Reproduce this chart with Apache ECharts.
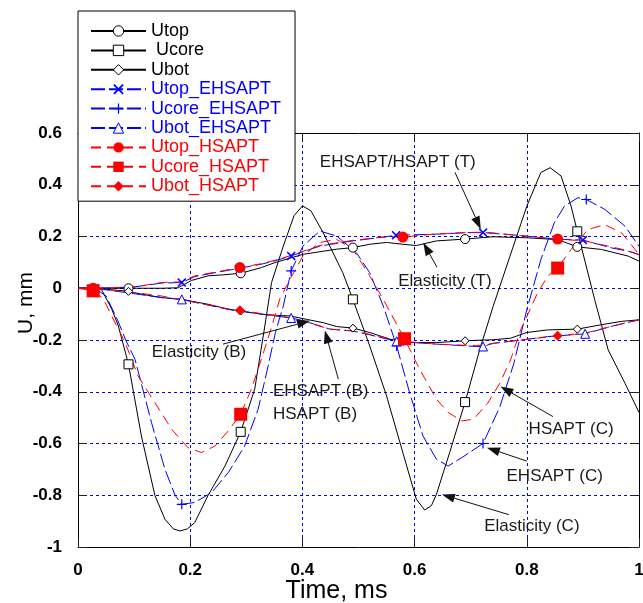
<!DOCTYPE html>
<html>
<head>
<meta charset="utf-8">
<script src="https://cdn.jsdelivr.net/npm/echarts@6/dist/echarts.min.js"></script>
<style>
html,body{margin:0;padding:0;background:#fff;}
#chart{width:643px;height:603px;}
</style>
</head>
<body>
<div id="chart"></div>
<script>
// ---------------- data (time in ms, displacement in mm) ----------------
const xTicks = [0, 0.2, 0.4, 0.6, 0.8, 1];
const yTicks = [-1, -0.8, -0.6, -0.4, -0.2, 0, 0.2, 0.4, 0.6];

const utop = [[0,0],[0.03,0],[0.09,0],[0.15,0],[0.179,0.002],[0.202,0.03],[0.232,0.048],[0.26,0.052],[0.29,0.058],[0.327,0.08],[0.351,0.099],[0.401,0.131],[0.461,0.151],[0.49,0.157],[0.52,0.17],[0.55,0.177],[0.579,0.17],[0.603,0.165],[0.639,0.183],[0.69,0.19],[0.74,0.199],[0.80,0.195],[0.855,0.188],[0.89,0.16],[0.933,0.15],[0.981,0.124],[1.0,0.105]];
const ucore = [[0,0],[0.03,0],[0.042,-0.005],[0.06,-0.08],[0.072,-0.146],[0.09,-0.294],[0.113,-0.571],[0.137,-0.80],[0.155,-0.893],[0.17,-0.93],[0.182,-0.938],[0.195,-0.93],[0.208,-0.906],[0.232,-0.80],[0.262,-0.687],[0.29,-0.555],[0.315,-0.39],[0.333,-0.146],[0.345,0.022],[0.366,0.163],[0.385,0.28],[0.40,0.318],[0.415,0.30],[0.437,0.215],[0.472,0.06],[0.49,-0.043],[0.52,-0.223],[0.55,-0.416],[0.579,-0.635],[0.603,-0.815],[0.618,-0.857],[0.63,-0.84],[0.639,-0.796],[0.6625,-0.635],[0.69,-0.44],[0.716,-0.238],[0.74,-0.07],[0.77,0.124],[0.80,0.317],[0.825,0.447],[0.8415,0.466],[0.861,0.434],[0.879,0.317],[0.89,0.22],[0.897,0.162],[0.921,-0.044],[0.945,-0.238],[0.975,-0.367],[1.0,-0.48]];
const ubot = [[0,0],[0.03,0],[0.09,-0.012],[0.113,-0.023],[0.149,-0.036],[0.185,-0.043],[0.232,-0.062],[0.268,-0.081],[0.29,-0.088],[0.327,-0.10],[0.351,-0.105],[0.378,-0.107],[0.407,-0.12],[0.437,-0.133],[0.461,-0.148],[0.49,-0.154],[0.52,-0.171],[0.556,-0.197],[0.591,-0.21],[0.639,-0.21],[0.69,-0.203],[0.74,-0.199],[0.771,-0.193],[0.80,-0.171],[0.837,-0.161],[0.89,-0.158],[0.933,-0.141],[0.969,-0.128],[1.0,-0.122]];

const utopE = [[0,0],[0.03,0],[0.1,0.005],[0.149,0.02],[0.185,0.022],[0.208,0.045],[0.244,0.06],[0.289,0.078],[0.327,0.093],[0.351,0.106],[0.38,0.125],[0.431,0.163],[0.49,0.183],[0.538,0.196],[0.567,0.205],[0.639,0.209],[0.692,0.215],[0.722,0.215],[0.771,0.207],[0.831,0.195],[0.855,0.19],[0.90,0.186],[0.951,0.156],[0.981,0.143],[1.0,0.13]];
const ucoreE = [[0,0],[0.03,0],[0.05,-0.03],[0.07,-0.12],[0.085,-0.2],[0.1015,-0.274],[0.131,-0.519],[0.155,-0.70],[0.173,-0.80],[0.185,-0.835],[0.208,-0.828],[0.238,-0.79],[0.268,-0.712],[0.297,-0.61],[0.321,-0.468],[0.339,-0.30],[0.352,-0.17],[0.366,-0.068],[0.38,0.067],[0.401,0.163],[0.431,0.221],[0.461,0.202],[0.496,0.138],[0.52,0.06],[0.544,-0.068],[0.568,-0.223],[0.591,-0.403],[0.615,-0.571],[0.639,-0.661],[0.66,-0.687],[0.686,-0.652],[0.722,-0.60],[0.752,-0.458],[0.777,-0.29],[0.80,-0.083],[0.825,0.11],[0.849,0.253],[0.867,0.317],[0.891,0.35],[0.906,0.343],[0.939,0.305],[0.975,0.24],[1.0,0.162]];
const ubotE = [[0,0],[0.03,0],[0.113,-0.025],[0.149,-0.036],[0.185,-0.043],[0.232,-0.065],[0.268,-0.082],[0.327,-0.10],[0.38,-0.115],[0.401,-0.125],[0.449,-0.158],[0.49,-0.165],[0.52,-0.18],[0.568,-0.205],[0.639,-0.216],[0.71,-0.225],[0.722,-0.225],[0.74,-0.213],[0.794,-0.199],[0.837,-0.187],[0.904,-0.176],[0.951,-0.147],[1.0,-0.122]];

const utopH = [[0,0],[0.027,0],[0.1,0.005],[0.149,0.022],[0.185,0.025],[0.208,0.048],[0.244,0.062],[0.2885,0.08],[0.327,0.095],[0.351,0.108],[0.38,0.127],[0.431,0.165],[0.49,0.185],[0.538,0.197],[0.579,0.198],[0.639,0.21],[0.692,0.215],[0.725,0.217],[0.771,0.207],[0.831,0.195],[0.855,0.19],[0.903,0.183],[0.951,0.16],[0.981,0.145],[1.0,0.13]];
const ucoreH = [[0,0],[0.027,-0.01],[0.045,-0.04],[0.06,-0.107],[0.084,-0.21],[0.107,-0.339],[0.137,-0.442],[0.167,-0.545],[0.196,-0.616],[0.22,-0.635],[0.244,-0.61],[0.268,-0.551],[0.29,-0.487],[0.309,-0.39],[0.327,-0.274],[0.345,-0.15],[0.36,-0.04],[0.378,0.035],[0.401,0.125],[0.431,0.177],[0.461,0.189],[0.49,0.151],[0.52,0.048],[0.544,-0.043],[0.582,-0.195],[0.609,-0.313],[0.639,-0.429],[0.66,-0.48],[0.684,-0.513],[0.705,-0.506],[0.73,-0.445],[0.752,-0.367],[0.771,-0.277],[0.789,-0.161],[0.819,-0.019],[0.837,0.046],[0.855,0.078],[0.879,0.15],[0.909,0.227],[0.939,0.246],[0.969,0.214],[0.993,0.15],[1.0,0.13]];
const ubotH = [[0,0],[0.027,0],[0.113,-0.02],[0.149,-0.03],[0.21,-0.055],[0.268,-0.08],[0.2885,-0.085],[0.327,-0.098],[0.365,-0.108],[0.401,-0.127],[0.449,-0.158],[0.49,-0.165],[0.52,-0.178],[0.58,-0.205],[0.639,-0.216],[0.71,-0.222],[0.74,-0.213],[0.794,-0.199],[0.855,-0.184],[0.903,-0.174],[0.951,-0.147],[1.0,-0.122]];

// x positions of the markers drawn on each curve
const markElastic = [0.09, 0.29, 0.49, 0.69, 0.89];
const markUtopE = [0.03, 0.185, 0.38, 0.567, 0.722, 0.90];
const markUcoreE = [0.185, 0.38, 0.568, 0.722, 0.906];
const markUbotE = [0.03, 0.185, 0.38, 0.568, 0.722, 0.904];
const markUtopH = [0.027, 0.2885, 0.579, 0.855];
const markUcoreH = [0.027, 0.29, 0.582, 0.855];
const markUbotH = [0.027, 0.2885, 0.58, 0.855];

// annotation texts and arrows (data coordinates)
const annTexts = [
  {text:'EHSAPT/HSAPT (T)', x:0.570, y:0.486, align:'center'},
  {text:'Elasticity (T)', x:0.654, y:0.027, align:'center'},
  {text:'Elasticity (B)', x:0.2157, y:-0.247, align:'center'},
  {text:'EHSAPT (B)', x:0.3476, y:-0.398, align:'left'},
  {text:'HSAPT (B)', x:0.3476, y:-0.486, align:'left'},
  {text:'HSAPT (C)', x:0.879, y:-0.544, align:'center'},
  {text:'EHSAPT (C)', x:0.8497, y:-0.726, align:'center'},
  {text:'Elasticity (C)', x:0.809, y:-0.919, align:'center'}
];
const annArrows = [
  [0.672, 0.448, 0.718, 0.228],
  [0.64, 0.081, 0.6155, 0.176],
  [0.2585, -0.216, 0.4135, -0.126],
  [0.464, -0.351, 0.44, -0.163],
  [0.8467, -0.496, 0.753, -0.38],
  [0.80, -0.668, 0.729, -0.616],
  [0.768, -0.875, 0.6487, -0.797]
];

// ---------------- styling ----------------
const FONT = '"Liberation Sans", Arial, Helvetica, sans-serif';
const BLACK = '#000000', BLUE = '#0000ff', RED = '#ff0000';
const X_PATH = 'path://M0,1.2L1.2,0L5,3.8L8.8,0L10,1.2L6.2,5L10,8.8L8.8,10L5,6.2L1.2,10L0,8.8L3.8,5Z';
const PLUS_PATH = 'path://M4.4,0H5.6V4.4H10V5.6H5.6V10H4.4V5.6H0V4.4H4.4Z';

function build(pts, marks) {
  return pts.map(p => marks.indexOf(p[0]) >= 0 ? {value: p} : {value: p, symbol: 'none'});
}
function mk(name, pts, marks, color, dash, symbol, size, itemStyle) {
  return {
    name: name, type: 'line', data: build(pts, marks),
    symbol: symbol, symbolSize: size, showAllSymbol: true,
    lineStyle: {color: color, width: 1, type: dash},
    itemStyle: itemStyle,
    emphasis: {disabled: true},
    z: 2
  };
}
const hollow = c => ({color: '#ffffff', borderColor: c, borderWidth: 1});
const solid = c => ({color: c, borderWidth: 0});
const BDASH = [14, 4], RDASH = [10, 6];

const series = [
  mk('Utop', utop, markElastic, BLACK, 'solid', 'circle', 9, hollow(BLACK)),
  mk(' Ucore', ucore, markElastic, BLACK, 'solid', 'rect', 9, hollow(BLACK)),
  mk('Ubot', ubot, markElastic, BLACK, 'solid', 'diamond', 8, hollow(BLACK)),
  mk('Utop_EHSAPT', utopE, markUtopE, BLUE, BDASH, X_PATH, 9, solid(BLUE)),
  mk('Ucore_EHSAPT', ucoreE, markUcoreE, BLUE, BDASH, PLUS_PATH, 10, solid(BLUE)),
  mk('Ubot_EHSAPT', ubotE, markUbotE, BLUE, BDASH, 'triangle', 9, hollow(BLUE)),
  mk('Utop_HSAPT', utopH, markUtopH, RED, RDASH, 'circle', 11, solid(RED)),
  mk('Ucore_HSAPT', ucoreH, markUcoreH, RED, RDASH, 'rect', 13, solid(RED)),
  mk('Ubot_HSAPT', ubotH, markUbotH, RED, RDASH, 'diamond', 10, solid(RED))
];

const legendData = series.map(s => ({
  name: s.name,
  textStyle: {color: s.lineStyle.color},
  itemStyle: s.itemStyle
}));

const gridLine = {show: true, showMinLine: false, showMaxLine: false,
  lineStyle: {color: BLUE, width: 1, type: [3, 3]}};
const axisLine = {show: true, onZero: false, lineStyle: {color: BLACK, width: 1}};
const tick = {show: true, inside: true, length: 9, lineStyle: {color: '#222', width: 1}};
const tickLabel = {fontFamily: FONT, fontSize: 17, fontWeight: 'bold', color: '#000'};

const option = {
  animation: false,
  backgroundColor: '#ffffff',
  grid: {left: 78, top: 133, width: 561, height: 414, containLabel: false, outerBoundsMode: 'none'},
  legend: {
    orient: 'vertical', left: 78, top: 11,
    padding: [11, 14, 6, 12],
    itemWidth: 55, itemHeight: 13, itemGap: 1.4,
    backgroundColor: '#ffffff', borderColor: BLACK, borderWidth: 1,
    selectedMode: false,
    textStyle: {fontFamily: FONT, fontSize: 18},
    data: legendData, z: 10
  },
  xAxis: [
    {type: 'value', min: 0, max: 1, interval: 0.2, position: 'bottom',
     axisLine: axisLine, axisTick: tick, splitLine: gridLine,
     axisLabel: Object.assign({margin: 15, formatter: v => String(v)}, tickLabel),
     name: 'Time, ms', nameLocation: 'middle', nameGap: 32, nameMoveOverlap: false,
     nameTextStyle: {fontFamily: FONT, fontSize: 25, color: '#000', padding: [0, 44, 0, 0]}},
    {type: 'value', min: 0, max: 1, interval: 0.2, position: 'top',
     axisLine: axisLine, axisTick: tick, splitLine: {show: false}, axisLabel: {show: false}}
  ],
  yAxis: [
    {type: 'value', min: -1, max: 0.6, interval: 0.2, position: 'left',
     axisLine: axisLine, axisTick: tick, splitLine: gridLine,
     axisLabel: Object.assign({margin: 16, formatter: v => String(Math.round(v * 10) / 10)}, tickLabel),
     name: 'U, mm', nameLocation: 'middle', nameGap: 41, nameRotate: 90, nameMoveOverlap: false,
     nameTextStyle: {fontFamily: FONT, fontSize: 21, color: '#000', padding: [0, 0, 0, 74]}},
    {type: 'value', min: -1, max: 0.6, interval: 0.2, position: 'right',
     axisLine: axisLine, axisTick: tick, splitLine: {show: false}, axisLabel: {show: false}}
  ],
  series: series
};

const chart = echarts.init(document.getElementById('chart'), null, {renderer: 'canvas'});
chart.setOption(option);

// annotations placed through the chart's own coordinate conversion
function px(x, y) { return chart.convertToPixel({xAxisIndex: 0, yAxisIndex: 0}, [x, y]); }
const graphics = [];
annTexts.forEach(t => {
  const p = px(t.x, t.y);
  graphics.push({type: 'text', x: p[0], y: p[1], z: 20,
    style: {text: t.text, fontFamily: FONT, fontSize: 17, fill: '#1a1a1a',
            align: t.align, verticalAlign: 'middle'}});
});
annArrows.forEach(a => {
  const s = px(a[0], a[1]), e = px(a[2], a[3]);
  const dx = e[0] - s[0], dy = e[1] - s[1];
  const L = Math.sqrt(dx * dx + dy * dy), ux = dx / L, uy = dy / L;
  const hl = 13, hw = 4.5;
  const bx = e[0] - ux * hl, by = e[1] - uy * hl;
  graphics.push({type: 'line', z: 20, shape: {x1: s[0], y1: s[1], x2: bx, y2: by},
    style: {stroke: '#111', lineWidth: 1}});
  graphics.push({type: 'polygon', z: 20,
    shape: {points: [[e[0], e[1]], [bx - uy * hw, by + ux * hw], [bx + uy * hw, by - ux * hw]]},
    style: {fill: '#111'}});
});
chart.setOption({graphic: graphics});
</script>
</body>
</html>
